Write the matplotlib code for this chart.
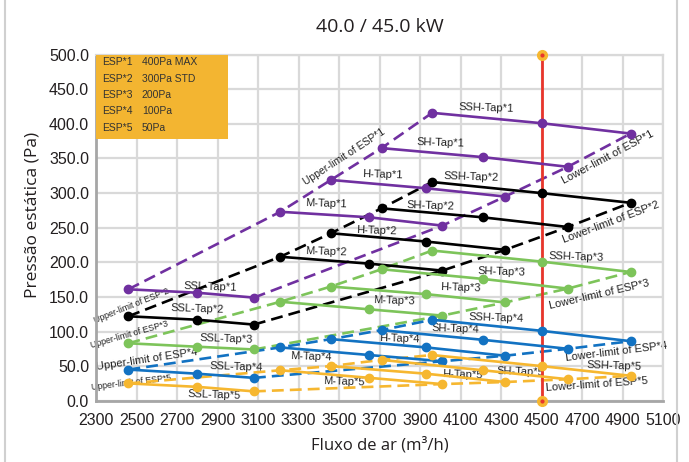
import matplotlib
matplotlib.use('Agg')
import matplotlib.pyplot as plt
from matplotlib.lines import Line2D
from matplotlib.patches import Rectangle

# ---------------- data ----------------
taps = ['SSL', 'M', 'H', 'SH', 'SSH']
esp_names = ['ESP*1', 'ESP*2', 'ESP*3', 'ESP*4', 'ESP*5']
esp_desc = ['400Pa MAX', '300Pa STD', '200Pa', '100Pa', '50Pa']

# airflow of the upper-limit, middle and lower-limit point of each tap
flow_upper = [2460, 3210, 3460, 3710, 3960]
flow_mid = [2800, 3650, 3930, 4210, 4500]
flow_lower = [3080, 4010, 4320, 4630, 4940]

# static pressure [upper, mid, lower] per tap, one list per ESP
esp1 = [[161, 156, 149], [273, 265, 253], [319, 307, 295], [365, 352, 338], [416, 401, 386]]
esp2 = [[122, 117, 110], [208, 198, 188], [242, 230, 218], [278, 265, 251], [316, 300, 286]]
esp3 = [[83, 78, 74], [143, 132, 123], [165, 154, 142], [190, 176, 162], [217, 201, 186]]
esp4 = [[45, 39, 33], [77, 66, 57], [89, 77, 65], [102, 88, 75], [117, 101, 86]]
esp5 = [[25, 20, 13.5], [44, 33, 24], [50, 39, 27], [59, 44, 31], [66, 50, 36]]
esp_data = [esp1, esp2, esp3, esp4, esp5]

rated_flow = 4500
x_ticks = list(range(2300, 5101, 200))
y_ticks = list(range(0, 501, 50))

# ---------------- style ----------------
colors = ['#7030A0', '#000000', '#7DC45A', '#1272C2', '#F6B730']

# tap label centres (data coords) per ESP, same order as taps
tap_label_pos = [
    [(2862, 165), (3438, 284), (3714, 327), (3999, 372), (4226, 423)],
    [(2802, 132), (3438, 215), (3684, 245), (3950, 281), (4152, 323)],
    [(2945, 89), (3773, 144), (4098, 164), (4305, 186), (4669, 208)],
    [(2994, 49), (3364, 64), (3798, 89), (4073, 104), (4275, 119)],
    [(2886, 8), (3527, 27), (4108, 38), (4398, 42), (4857, 50)],
]
upper_lbl = [((3527, 352), 33, 7.5), ((2477, 137), 22, 6.3), ((2467, 95), 16, 6.3),
             ((2551, 59), 8.5, 8), ((2472, 26), 7, 6.3)]
lower_lbl = [((4827, 352), 28, 8), ((4842, 258), 20.5, 8), ((4783, 154), 13, 8),
             ((4871, 70), 7, 8), ((4773, 23), 4, 8)]

body = ['Liberation Sans', 'DejaVu Sans']
head = ['Open Sans', 'DejaVu Sans']

fig = plt.figure(figsize=(6.89, 4.62), dpi=100)
ax = fig.add_axes([96 / 689, 1 - 400.7 / 462, (663 - 96) / 689, (400.7 - 54.7) / 462])

lw = 1.9
for i, data in enumerate(esp_data):
    c = colors[i]
    # upper / lower limit dashed lines
    ax.plot(flow_upper, [d[0] for d in data], color=c, lw=lw, dashes=(4.5, 2.3), zorder=3)
    ax.plot(flow_lower, [d[2] for d in data], color=c, lw=lw, dashes=(4.5, 2.3), zorder=3)
    for j, d in enumerate(data):
        ax.plot([flow_upper[j], flow_mid[j], flow_lower[j]], d, color=c, lw=lw,
                marker='o', ms=6, zorder=4)
        lx, ly = tap_label_pos[i][j]
        ax.text(lx, ly, taps[j] + '-Tap' + '*' + str(i + 1), ha='center', va='center',
                fontsize=8, family=body, color='#222222', rotation=-2, zorder=2)
    (ux, uy), urot, ufs = upper_lbl[i]
    ax.text(ux, uy, 'Upper-limit of ' + esp_names[i], ha='center', va='center',
            rotation=urot, fontsize=ufs, family=body, color='#222222', zorder=2)
    (lx, ly), lrot, lfs = lower_lbl[i]
    ax.text(lx, ly, 'Lower-limit of ' + esp_names[i], ha='center', va='center',
            rotation=lrot, fontsize=lfs, family=body, color='#222222', zorder=2)

# rated airflow line
ax.plot([rated_flow, rated_flow], [0, 500], color='#E8352B', lw=2, zorder=3.5)
ax.plot([rated_flow, rated_flow], [0, 500], ls='none', marker='o', ms=7,
        mfc='#F6B730', mec='#F6B730', zorder=5, clip_on=False)
ax.plot([rated_flow, rated_flow], [0, 500], ls='none', marker='o', ms=2,
        mfc='#E8352B', mec='#E8352B', zorder=6, clip_on=False)

ax.set_xlim(2300, 5100)
ax.set_ylim(0, 500)
ax.set_xticks(x_ticks)
ax.set_yticks(y_ticks)
ax.set_yticklabels(['%.1f' % v for v in y_ticks])
ax.tick_params(length=0, labelsize=11.5, labelcolor='#231F20')
ax.tick_params(axis='x', pad=9)
ax.tick_params(axis='y', pad=5)
for lab in ax.get_xticklabels() + ax.get_yticklabels():
    lab.set_family(body)
ax.grid(True, color='#D9D9D9', lw=1.6, zorder=0)
ax.set_axisbelow(True)
for s in ['top', 'right']:
    ax.spines[s].set_color('#D9D9D9')
    ax.spines[s].set_linewidth(1.6)
for s in ['left', 'bottom']:
    ax.spines[s].set_color('#A6A6A6')
    ax.spines[s].set_linewidth(2)

# legend box
ax.add_patch(Rectangle((0, 0.756), 0.233, 0.244, transform=ax.transAxes,
                       fc='#F3B531', ec='none', zorder=7, clip_on=False))
leg_y = [0.979, 0.930, 0.884, 0.838, 0.789]
for n, d, yy in zip(esp_names, esp_desc, leg_y):
    ax.text(0.0106, yy, n, transform=ax.transAxes, ha='left', va='center',
            fontsize=7.5, family=body, color='#333333', zorder=8)
    ax.text(0.081, yy, d, transform=ax.transAxes, ha='left', va='center',
            fontsize=7.5, family=body, color='#333333', zorder=8)

fig.text(379.5 / 689, 1 - 27 / 462, '40.0 / 45.0 kW', ha='center', va='center',
         fontsize=14, family=head, color='#231F20')
fig.text(379.5 / 689, 1 - 445 / 462, 'Fluxo de ar (m³/h)', ha='center', va='center',
         fontsize=12, family=head, color='#231F20')
fig.text(33 / 689, 1 - 215 / 462, 'Pressão estática (Pa)', ha='center', va='center',
         rotation=90, fontsize=12.5, family=head, color='#231F20')

# light frame on the sides
fig.add_artist(Line2D([5 / 689, 5 / 689], [0, 1], color='#D0D0D0', lw=1.5))
fig.add_artist(Line2D([677 / 689, 677 / 689], [0, 1], color='#D0D0D0', lw=1.5))

fig.savefig('out.png', dpi=100)
